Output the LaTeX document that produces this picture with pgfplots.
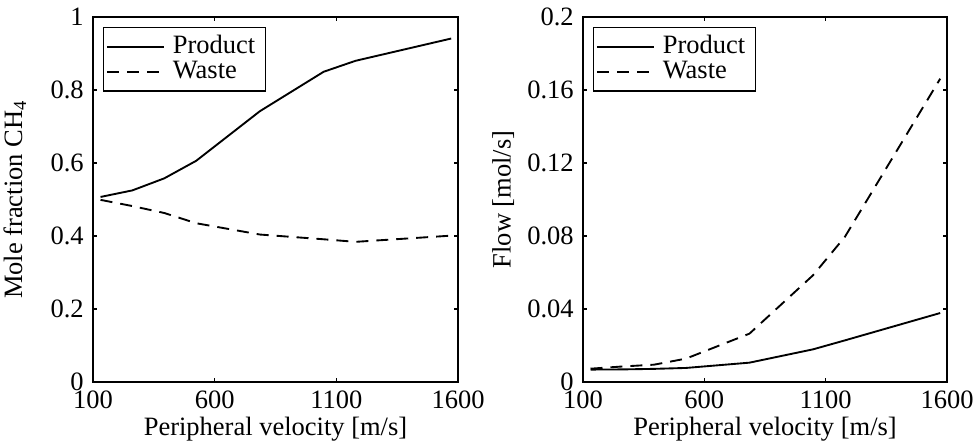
\documentclass[border=0pt]{standalone}
\usepackage{fontspec}
\setmainfont{Liberation Serif}
\usepackage{pgfplots}
\pgfplotsset{compat=1.18}
\newcommand\ff{\rmfamily\fontsize{10.6}{12.5}\selectfont}
\begin{document}
\ff
\begin{tikzpicture}[font=\ff]
\useasboundingbox (0,0) rectangle (390.4pt,176.8pt);
\pgfplotsset{
  myax/.style={
    scale only axis,
    height=146pt,
    xmin=100, xmax=1600,
    xtick={100,600,1100,1600},
    xticklabels={100,600,1100,1600},
    tick align=inside,
    major tick length=1.6pt,
    axis line style={line width=0.8pt},
    every tick/.style={line width=0.6pt, black},
    tick label style={font=\ff},
    label style={font=\ff},
    /pgf/number format/assume math mode=true,
    xlabel={Peripheral velocity [m/s]},
    xlabel style={yshift=4pt},
    xticklabel style={yshift=0pt},
    legend cell align=left,
    legend style={at={(0,1)}, anchor=north west, xshift=3.9pt, yshift=-3.9pt,
      draw=black, line width=0.6pt, fill=white, inner sep=1.2pt, row sep=-2.5pt,
      font=\ff,
      nodes={inner xsep=3pt}},
    legend image code/.code={\draw[##1] (0cm,0cm) -- (0.8cm,0cm);},
  },
  prod/.style={black, solid, line width=0.75pt, no markers},
  wst/.style={black, line width=0.75pt, no markers, dash pattern=on 4.8pt off 3.2pt},
}
\begin{axis}[myax, at={(37.2pt,24pt)}, anchor=south west, width=146pt,
  ymin=0, ymax=1,
  ytick={0,0.2,0.4,0.6,0.8,1},
  yticklabels={0,0.2,0.4,0.6,0.8,1},
  ylabel={Mole fraction CH\textsubscript{4}},
  ylabel style={yshift=2.5pt},
]
\addplot[prod] coordinates {(131,0.507) (262,0.525) (393,0.558) (524,0.606) (786,0.742) (1048,0.850) (1179,0.880) (1572,0.941)};
\addlegendentry{Product}
\addplot[wst] coordinates {(131,0.499) (262,0.482) (393,0.463) (524,0.435) (786,0.404) (1048,0.391) (1179,0.384) (1572,0.401)};
\addlegendentry{Waste}
\end{axis}
\begin{axis}[myax, at={(233.2pt,24pt)}, anchor=south west, width=145.6pt,
  ymin=0, ymax=0.2,
  ytick={0,0.04,0.08,0.12,0.16,0.2},
  yticklabels={0,0.04,0.08,0.12,0.16,0.2},
  ylabel={Flow [mol/s]},
  ylabel style={yshift=-2pt},
]
\addplot[prod] coordinates {(131,0.0068) (262,0.0069) (393,0.0072) (524,0.0077) (786,0.0106) (1048,0.0179) (1179,0.0228) (1572,0.0378)};
\addlegendentry{Product}
\addplot[wst] coordinates {(131,0.0073) (262,0.0085) (393,0.0095) (524,0.0128) (786,0.0265) (1048,0.0585) (1179,0.0795) (1572,0.1662)};
\addlegendentry{Waste}
\end{axis}
\end{tikzpicture}
\end{document}
